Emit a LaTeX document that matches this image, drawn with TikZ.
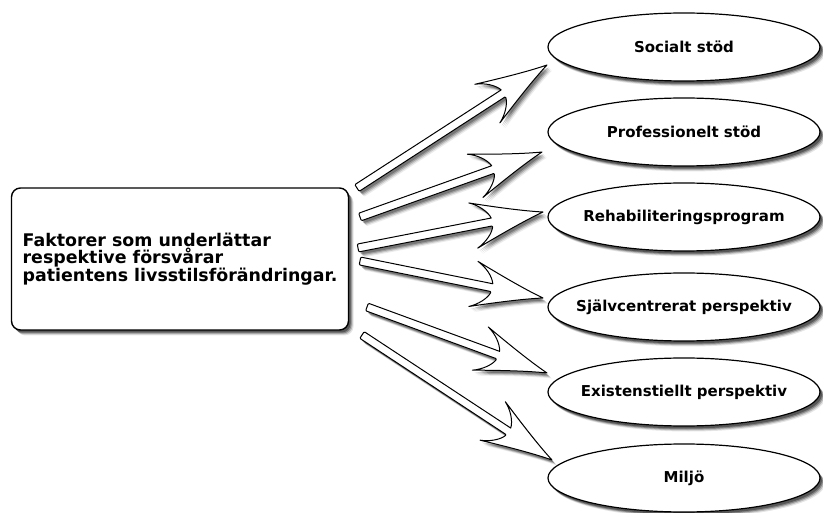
\documentclass[tikz,border=0pt]{standalone}
\usepackage{fontspec}
\setmainfont{DejaVu Sans}
\usetikzlibrary{shapes.geometric,shadows,calc}

\tikzset{
  softshadow/.style={
    drop shadow={shadow xshift=5pt,shadow yshift=-5.5pt,opacity=.1,fill=black},
    drop shadow={shadow xshift=4pt,shadow yshift=-4.5pt,opacity=.18,fill=black},
    drop shadow={shadow xshift=3pt,shadow yshift=-3.5pt,opacity=.28,fill=black},
    drop shadow={shadow xshift=2pt,shadow yshift=-2.5pt,opacity=.35,fill=black}},
  ellbox/.style={ellipse, draw=black, line width=1.2pt, fill=white,
    minimum width=272pt, minimum height=68pt, inner sep=0pt,
    font=\bfseries\fontsize{15}{16}\selectfont, softshadow},
  mainbox/.style={rectangle, rounded corners=9pt, draw=black, line width=1.4pt,
    fill=white, minimum width=337pt, minimum height=142pt, align=left,
    font=\bfseries\fontsize{17.4}{16.5}\selectfont, softshadow},
  arrowline/.style={draw=black, line width=1pt, fill=white, line join=round},
  arrowshadow/.style={fill=black, opacity=#1},
}

\newcommand\ctext[1]{\makebox[0pt]{#1}}

\newcommand\arrowshape{(0,4) [rounded corners=1pt] -- ({\Len-52},4) [sharp corners]
  .. controls ({\Len-54},11) and ({\Len-62},19) .. ({\Len-71},23)
  .. controls ({\Len-46},14) and ({\Len-20},5) .. (\Len,0)
  .. controls ({\Len-20},-5) and ({\Len-46},-14) .. ({\Len-71},-23)
  .. controls ({\Len-62},-19) and ({\Len-54},-11) .. ({\Len-52},-4)
  [rounded corners=1pt] -- (0,-4) -- cycle}

\newcommand\blockarrow[2]{%
  \path let \p1=(#1), \p2=(#2) in \pgfextra{%
    \pgfmathsetmacro\arrang{atan2(\y2-\y1,\x2-\x1)}%
    \pgfmathsetmacro\arrlen{veclen(\x2-\x1,\y2-\y1)}%
    \global\let\Ang\arrang \global\let\Len\arrlen};
  \begin{scope}[shift={(#1)},xshift=5pt,yshift=-5.5pt,rotate=\Ang]
    \fill[arrowshadow=.08] \arrowshape;
  \end{scope}
  \begin{scope}[shift={(#1)},xshift=4pt,yshift=-4.5pt,rotate=\Ang]
    \fill[arrowshadow=.14] \arrowshape;
  \end{scope}
  \begin{scope}[shift={(#1)},xshift=3pt,yshift=-3.5pt,rotate=\Ang]
    \fill[arrowshadow=.2] \arrowshape;
  \end{scope}
  \begin{scope}[shift={(#1)},xshift=2pt,yshift=-2.5pt,rotate=\Ang]
    \fill[arrowshadow=.25] \arrowshape;
  \end{scope}
  \begin{scope}[shift={(#1)},rotate=\Ang]
    \path[arrowline] \arrowshape;
  \end{scope}}

\begin{document}
\begin{tikzpicture}[x=1pt,y=-1pt]
  \fill[white] (0,0) rectangle (823,513);
  \useasboundingbox (0,0) rectangle (823,513);

  \node[mainbox] (m) at (180,259) {Faktorer som underlättar\\respektive försvårar\\patientens livsstilsförändringar.};

  \node[ellbox] (e1) at (684,47)  {\ctext{Socialt stöd}};
  \node[ellbox] (e2) at (684,132) {\ctext{Professionelt stöd}};
  \node[ellbox] (e3) at (684,217) {\ctext{Rehabiliteringsprogram}};
  \node[ellbox] (e4) at (684,307) {\ctext{Självcentrerat perspektiv}};
  \node[ellbox] (e5) at (684,392) {\ctext{Existenstiellt perspektiv}};
  \node[ellbox] (e6) at (684,478) {\ctext{Miljö}};

  \coordinate (t1) at (357,188); \coordinate (h1) at (547,65);
  \coordinate (t2) at (360,217); \coordinate (h2) at (542,152);
  \coordinate (t3) at (358,248); \coordinate (h3) at (543,212);
  \coordinate (t4) at (360,261); \coordinate (h4) at (543,298);
  \coordinate (t5) at (367,307); \coordinate (h5) at (547,373);
  \coordinate (t6) at (362,335); \coordinate (h6) at (552,460);

  \blockarrow{t1}{h1}
  \blockarrow{t2}{h2}
  \blockarrow{t3}{h3}
  \blockarrow{t4}{h4}
  \blockarrow{t5}{h5}
  \blockarrow{t6}{h6}
\end{tikzpicture}
\end{document}
